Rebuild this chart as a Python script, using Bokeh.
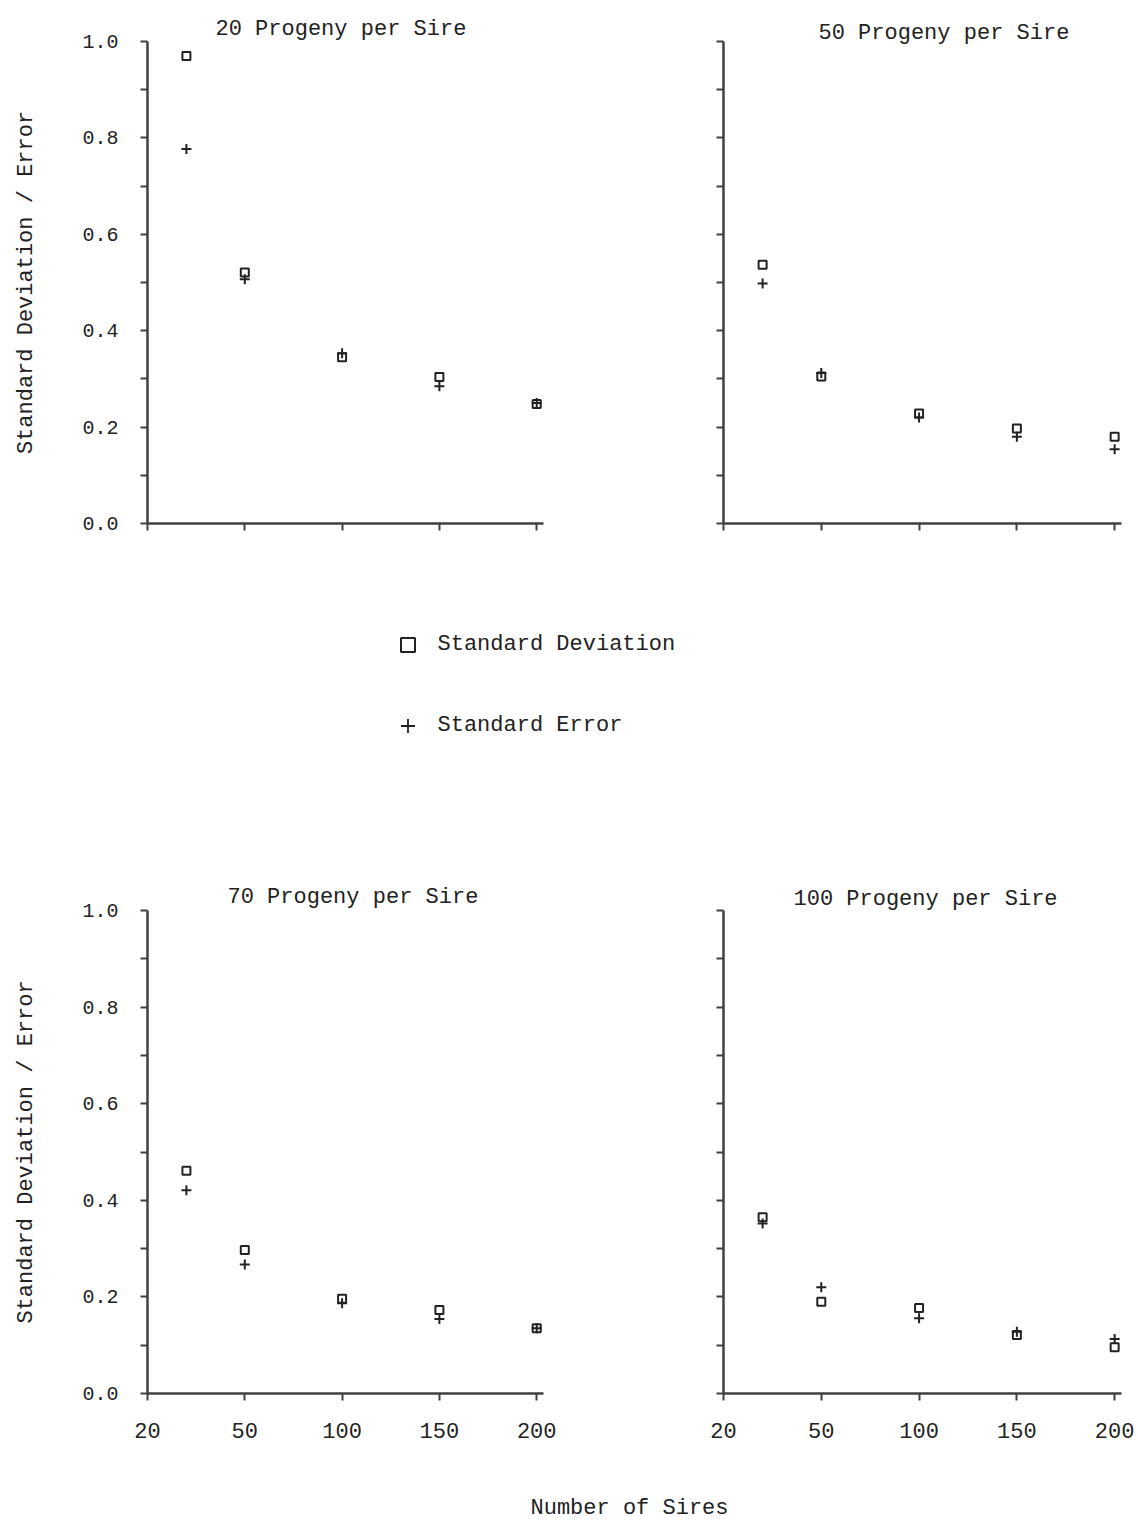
from bokeh.plotting import figure
from bokeh.layouts import column, row
from bokeh.models import Range1d, FixedTicker, Legend, LegendItem, Label
from bokeh.embed import file_html
from bokeh.resources import INLINE

# ---------------- data ----------------
sires = [20, 50, 100, 150, 200]
x_tick_values = [0, 50, 100, 150, 200]
x_tick_labels = ["20", "50", "100", "150", "200"]
y_major = [0.0, 0.2, 0.4, 0.6, 0.8, 1.0]
y_major_labels = ["0.0", "0.2", "0.4", "0.6", "0.8", "1.0"]
y_minor = [0.1, 0.3, 0.5, 0.7, 0.9]
y_all = [0.0, 0.1, 0.2, 0.3, 0.4, 0.5, 0.6, 0.7, 0.8, 0.9, 1.0]

titles = ["20 Progeny per Sire", "50 Progeny per Sire",
          "70 Progeny per Sire", "100 Progeny per Sire"]

sd_20 = [0.970, 0.521, 0.345, 0.304, 0.248]
se_20 = [0.777, 0.507, 0.353, 0.285, 0.250]
sd_50 = [0.537, 0.305, 0.228, 0.197, 0.180]
se_50 = [0.498, 0.312, 0.220, 0.180, 0.154]
sd_70 = [0.461, 0.297, 0.196, 0.173, 0.135]
se_70 = [0.421, 0.267, 0.187, 0.154, 0.135]
sd_100 = [0.365, 0.190, 0.177, 0.121, 0.096]
se_100 = [0.352, 0.220, 0.156, 0.128, 0.113]

legend_labels = ["Standard Deviation", "Standard Error"]
y_title = "Standard Deviation / Error"
x_title = "Number of Sires"

# ---------------- style ----------------
FONT = "Liberation Mono"
INK = "#222222"
AXIS = "#404040"
X_MAX = 203.5   # a little room so markers at 200 are not cut by the frame


def make_panel(title, sd, se, y_labels, x_labels, b_left, b_right, b_top, b_bottom,
               fw, fh, title_offset, title_standoff):
    p = figure(frame_width=fw, frame_height=fh,
               x_range=Range1d(0, X_MAX), y_range=Range1d(0, 1.0),
               output_backend="svg", toolbar_location=None,
               min_border_left=b_left, min_border_right=b_right,
               min_border_top=b_top, min_border_bottom=b_bottom)
    p.title.text = title
    p.title.text_font = FONT
    p.title.text_font_size = "22px"
    p.title.text_font_style = "normal"
    p.title.text_color = INK
    p.title.align = "left"
    p.title.offset = title_offset
    p.title.standoff = title_standoff
    p.xgrid.visible = False
    p.ygrid.visible = False
    p.outline_line_color = None

    for ax in (p.xaxis[0], p.yaxis[0]):
        ax.axis_line_color = AXIS
        ax.axis_line_width = 2.5
        ax.major_tick_line_color = AXIS
        ax.minor_tick_line_color = AXIS
        ax.major_tick_line_width = 2
        ax.minor_tick_line_width = 2
        ax.major_tick_in = 0
        ax.major_tick_out = 7
        ax.minor_tick_in = 0
        ax.minor_tick_out = 7
        ax.major_label_text_font = FONT
        ax.major_label_text_color = INK
        ax.axis_label_text_font = FONT
        ax.axis_label_text_color = INK
        ax.axis_label_text_font_style = "normal"

    xa = p.xaxis[0]
    if x_labels:
        xa.ticker = FixedTicker(ticks=x_tick_values, minor_ticks=[])
        xa.major_label_overrides = {v: s for v, s in zip(x_tick_values, x_tick_labels)}
        xa.major_label_text_font_size = "22px"
        xa.major_label_standoff = 22
    else:
        xa.ticker = FixedTicker(ticks=[], minor_ticks=x_tick_values)

    ya = p.yaxis[0]
    if y_labels:
        ya.ticker = FixedTicker(ticks=y_major, minor_ticks=y_minor)
        ya.major_label_overrides = {v: s for v, s in zip(y_major, y_major_labels)}
        ya.major_label_text_font_size = "20px"
        ya.major_label_standoff = 22
        ya.axis_label = y_title
        ya.axis_label_text_font_size = "22px"
        ya.axis_label_standoff = 40
    else:
        ya.ticker = FixedTicker(ticks=[], minor_ticks=y_all)

    p.scatter(sires, sd, marker="square", size=8, fill_color=None,
              line_color=INK, line_width=2)
    p.scatter(sires, se, marker="cross", size=10, line_color=INK, line_width=2)
    return p


p1 = make_panel(titles[0], sd_20, se_20, True, False, 147, 13, 41, 20, 396, 482, 68, 0)
p2 = make_panel(titles[1], sd_50, se_50, False, False, 167, 13, 41, 20, 398, 482, 95, -8)
p3 = make_panel(titles[2], sd_70, se_70, True, True, 147, 13, 33, 57, 396, 483, 80, 2)
p4 = make_panel(titles[3], sd_100, se_100, False, True, 167, 13, 33, 57, 398, 483, 70, -3)

# ---------------- legend strip ----------------
# the legend renderers carry the first panel's data, but this strip's ranges keep them out of view
pm = figure(width=1134, height=334, x_range=Range1d(0, 1), y_range=Range1d(0, 1),
            x_axis_type=None, y_axis_type=None, output_backend="svg",
            toolbar_location=None, min_border=0)
pm.xgrid.visible = False
pm.ygrid.visible = False
pm.outline_line_color = None
r_sd = pm.scatter(sires, sd_20, marker="square", size=8, fill_color=None,
                  line_color=INK, line_width=2)
r_se = pm.scatter(sires, se_20, marker="cross", size=10, line_color=INK, line_width=1.8)
legend = Legend(items=[LegendItem(label=legend_labels[0], renderers=[r_sd], index=0),
                       LegendItem(label=legend_labels[1], renderers=[r_se], index=0)],
                location=(389.5, 134), orientation="vertical",
                glyph_width=35, glyph_height=35, label_height=35,
                spacing=46, padding=0, margin=0, label_standoff=13,
                label_text_font=FONT, label_text_font_size="22px",
                label_text_color=INK, border_line_color=None,
                background_fill_alpha=0)
pm.add_layout(legend)

# ---------------- x title strip ----------------
ps = figure(width=1134, height=75, x_range=Range1d(0, 1), y_range=Range1d(0, 1),
            x_axis_type=None, y_axis_type=None, output_backend="svg",
            toolbar_location=None, min_border=0)
ps.xgrid.visible = False
ps.ygrid.visible = False
ps.outline_line_color = None
ps.add_layout(Label(x=629, y=17, x_units="screen", y_units="screen", text=x_title,
                    text_align="center", text_baseline="middle", text_font=FONT,
                    text_font_size="22px", text_color=INK))

layout = column(row(p1, p2), pm, row(p3, p4), ps)

open("out.html", "w").write(file_html(layout, INLINE))
